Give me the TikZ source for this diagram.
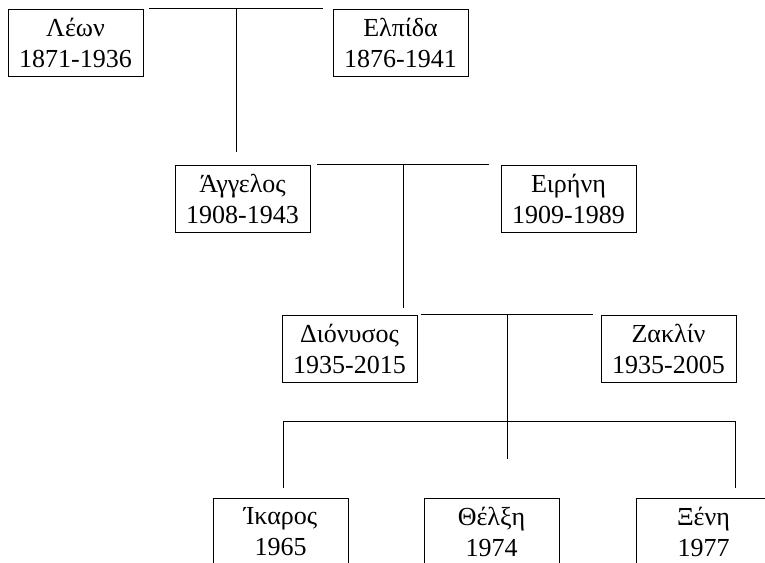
\documentclass[tikz,border=0pt]{standalone}
\usepackage{fontspec}
\setmainfont{Liberation Serif}

\tikzset{
  person/.style = {draw, minimum width = 135pt, minimum height = 67pt,
    inner sep = 0pt, align = center, font = \fontsize{26}{31}\selectfont}
}

\begin{document}
\begin{tikzpicture}[x = 1pt, y = -1pt, line width = .9pt]
        \clip (0,0) rectangle (765,562);

        % draws the people
        \node[person] (leon)     at (75.5,42.5)   {Λέων\\1871-1936};
        \node[person] (elpida)   at (400.5,42.5)  {Ελπίδα\\1876-1941};
        \node[person] (angelos)  at (242.5,198.5) {Άγγελος\\1908-1943};
        \node[person] (eirini)   at (568.5,198.5) {Ειρήνη\\1909-1989};
        \node[person] (dionysos) at (349.5,348.5) {Διόνυσος\\1935-2015};
        \node[person] (zaklin)   at (668.5,348.5) {Ζακλίν\\1935-2005};
        \node[person] (ikaros)   at (280.5,531.5) {Ίκαρος\\1965};
        \node[person] (thelxi)   at (491.5,531.5) {Θέλξη\\1974};
        \node[person] (xeni)     at (703.5,531.5) {Ξένη\\1977};

        % draws the marriages
        \draw ([xshift = 6pt]leon.north east) -- ([xshift = -10pt]elpida.north west);
        \draw ([xshift = 7pt]angelos.north east) -- ([xshift = -12pt]eirini.north west);
        \draw ([xshift = 4pt]dionysos.north east) -- ([xshift = -8pt]zaklin.north west);

        % draws the descent
        \coordinate (drop1) at (236,152);
        \coordinate (drop2) at (403,308);
        \coordinate (bar)   at (507,421);
        \coordinate (kid1)  at (283,488);
        \coordinate (kid2)  at (507,459);
        \coordinate (kid3)  at (735,488);
        \draw (drop1 |- leon.north) -- (drop1);
        \draw (drop2 |- angelos.north) -- (drop2);
        \draw (kid2 |- dionysos.north) -- (kid2);
        \draw (kid1) -- (kid1 |- bar) -- (kid3 |- bar) -- (kid3);
      \end{tikzpicture}
\end{document}
